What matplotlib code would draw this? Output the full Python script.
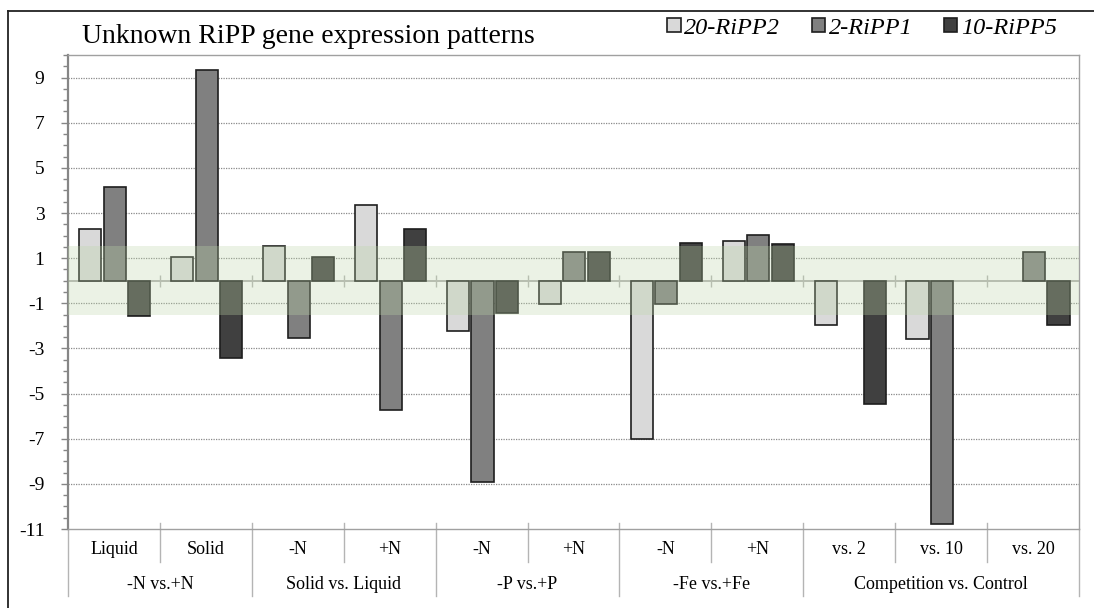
import numpy as np
import matplotlib
matplotlib.use("Agg")
import matplotlib.pyplot as plt
from matplotlib.ticker import MultipleLocator
from matplotlib.lines import Line2D

plt.rcParams['font.family'] = ['Liberation Serif', 'DejaVu Serif']
plt.rcParams['axes.unicode_minus'] = False

# expression changes per condition, three RiPP genes
sub_labels = ['Liquid', 'Solid', '-N', '+N', '-N', '+N', '-N', '+N', 'vs. 2', 'vs. 10', 'vs. 20']
group_labels = ['-N vs.+N', 'Solid vs. Liquid', '-P vs.+P', '-Fe vs.+Fe', 'Competition vs. Control']
group_sizes = [2, 2, 2, 2, 3]
series_names = ['20-RiPP2', '2-RiPP1', '10-RiPP5']
ripp2_20 = [2.28, 1.05, 1.56, 3.37, -2.23, -1.04, -7.0, 1.77, -1.96, -2.58, 0]
ripp1_2 = [4.13, 9.35, -2.52, -5.71, -8.9, 1.27, -1.03, 2.04, 0, -10.78, 1.29]
ripp5_10 = [-1.57, -3.44, 1.06, 2.28, -1.45, 1.29, 1.66, 1.64, -5.45, 0, -1.96]
colors = ['#d9d9d9', '#808080', '#404040']

fig = plt.figure(figsize=(10.94, 6.08), dpi=100)
W, H = 1094, 608
ax = fig.add_axes([68 / W, 1 - 529 / H, (1079 - 68) / W, (529 - 55) / H])

x = np.arange(len(sub_labels)) + 0.5
step, width = 0.267, 0.24
handles = []
for k, (vals, c, name) in enumerate(zip([ripp2_20, ripp1_2, ripp5_10], colors, series_names)):
    vals = np.array(vals, dtype=float)
    m = vals != 0
    b = ax.bar(x[m] + (k - 1) * step + 0.01, vals[m], width, color=c,
               edgecolor='#1e1e1e', linewidth=1.2, zorder=3, label=name)
    handles.append(b)

# threshold band drawn over the bars
ax.axhspan(-1.5, 1.55, color=(190 / 255, 215 / 255, 170 / 255), alpha=0.3, lw=0, zorder=4)

ax.set_xlim(0, 11)
ax.set_ylim(-11, 10)
ax.set_yticks(np.arange(-11, 10, 2))
ax.set_yticklabels([str(v) for v in range(-11, 10, 2)])
ax.yaxis.set_minor_locator(MultipleLocator(0.5))
ax.tick_params(axis='y', which='major', length=5, width=1, color='#868686',
               labelsize=14, pad=12)
ax.tick_params(axis='y', which='minor', length=3.5, width=1, color='#868686')
ax.set_xticks([])

for yv in range(-9, 10, 2):
    ax.axhline(yv, color='#8a8a8a', lw=0.9, ls=(0, (1, 1)), zorder=1)

ax.axhline(0, color='#a6a6a6', lw=1.2, zorder=2)
ax.vlines(np.arange(1, 11), -0.27, 0.27, color='#b4b4b4', lw=1, zorder=2)

ax.spines['left'].set_color('#868686')
ax.spines['left'].set_linewidth(1.6)
for s in ['top', 'right', 'bottom']:
    ax.spines[s].set_color('#a0a0a0')
    ax.spines[s].set_linewidth(1)

# two-level category labels under the axis
tr = ax.get_xaxis_transform()
sep_kw = dict(color='#b4b4b4', lw=1, transform=tr, clip_on=False)
for xi, lab in zip(x, sub_labels):
    ax.text(xi, -0.044, lab, transform=tr, ha='center', va='center', fontsize=13)
edges = np.cumsum([0] + group_sizes)
for i in range(1, 11):
    if i in edges:
        continue
    ax.plot([i, i], [0.013, -0.07], **sep_kw)
for e in edges:
    ax.plot([e, e], [0.013 if 0 < e < 11 else 0, -0.142], **sep_kw)
for lab, a, b in zip(group_labels, edges[:-1], edges[1:]):
    ax.text((a + b) / 2, -0.118, lab, transform=tr, ha='center', va='center', fontsize=13)

fig.text(82 / W, 1 - 43 / H, 'Unknown RiPP gene expression patterns', fontsize=20,
         ha='left', va='baseline')
fig.legend(handles=handles, labels=series_names, loc='center right',
           bbox_to_anchor=(1057 / W, 1 - 28 / H), ncol=3, frameon=False,
           prop=dict(family='Liberation Serif', style='italic', size=17.5),
           handlelength=0.55, handleheight=0.55, handletextpad=0.15,
           columnspacing=1.3, borderpad=0, borderaxespad=0)

# outer frame (left and top edges)
fig.add_artist(Line2D([8 / W, 8 / W], [0, 1 - 11 / H], color='#222222', lw=1.3))
fig.add_artist(Line2D([8 / W, 1], [1 - 11 / H, 1 - 11 / H], color='#222222', lw=1.3))

fig.savefig('out.png', dpi=100)
